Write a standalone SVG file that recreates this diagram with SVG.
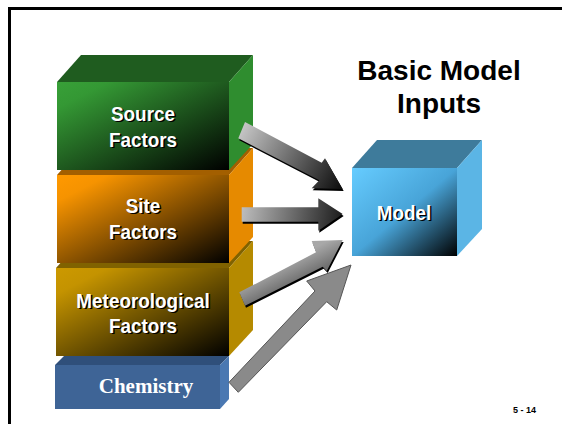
<svg xmlns="http://www.w3.org/2000/svg" width="562" height="424" viewBox="0 0 562 424">
<defs>
<linearGradient id="gGreen" x1="0" y1="0" x2="1" y2="1"><stop offset="0" stop-color="#38a038"/><stop offset="0.15" stop-color="#349834"/><stop offset="1" stop-color="#000"/></linearGradient>
<linearGradient id="gOrange" x1="0" y1="0" x2="1" y2="1"><stop offset="0" stop-color="#ff9900"/><stop offset="0.15" stop-color="#f69300"/><stop offset="1" stop-color="#000"/></linearGradient>
<linearGradient id="gOlive" x1="0" y1="0" x2="1" y2="1"><stop offset="0" stop-color="#cc9900"/><stop offset="0.15" stop-color="#c49300"/><stop offset="1" stop-color="#000"/></linearGradient>
<linearGradient id="gModel" x1="0" y1="0" x2="1" y2="1"><stop offset="0" stop-color="#66ccff"/><stop offset="0.5" stop-color="#48a4d8"/><stop offset="1" stop-color="#000"/></linearGradient>
<linearGradient id="gA1" gradientUnits="userSpaceOnUse" x1="242" y1="130" x2="340" y2="186"><stop offset="0" stop-color="#c4c4c4"/><stop offset="1" stop-color="#111"/></linearGradient>
<linearGradient id="gA2" gradientUnits="userSpaceOnUse" x1="242" y1="207" x2="342" y2="222"><stop offset="0" stop-color="#bdbdbd"/><stop offset="1" stop-color="#1c1c1c"/></linearGradient>
<linearGradient id="gA3" gradientUnits="userSpaceOnUse" x1="300" y1="255" x2="310" y2="275"><stop offset="0" stop-color="#a8a8a8"/><stop offset="1" stop-color="#707070"/></linearGradient>
</defs>
<style>
.lbl{font-family:"Liberation Sans",Arial,sans-serif;font-weight:bold;font-size:21px;text-anchor:middle;fill:#fff}
.sh{fill:#000}
.title{font-family:"Liberation Sans",Arial,sans-serif;font-weight:bold;font-size:28px;text-anchor:middle;fill:#000}
.chem{font-family:"Liberation Serif","Times New Roman",serif;font-weight:bold;font-size:21px;text-anchor:middle;fill:#fff}
.num{font-family:"Liberation Sans",Arial,sans-serif;font-weight:bold;font-size:9px;text-anchor:middle;fill:#000}
.ashadow{fill:#000}
</style>
<rect x="9.5" y="8.5" width="600" height="500" fill="none" stroke="#000" stroke-width="3"/>

<g id="chemistry">
<polygon points="55,365 64,356 229,356 220,365" fill="#2f4f7a"/>
<polygon points="220,365 229,356 229,399 220,409" fill="#4a78b2"/>
<rect x="55" y="365" width="165" height="44" fill="#3e6496"/>
<text class="chem" x="146" y="393">Chemistry</text>
</g>

<g id="meteorological-factors">
<polygon points="56,268 80,241 253,241 229,268" fill="#806200"/>
<polygon points="229,268 253,241 253,330 229,356" fill="#b58a00"/>
<rect x="56" y="268" width="173" height="88" fill="url(#gOlive)"/>
<g transform="translate(144.5,1.5) scale(0.9,1)"><text class="lbl sh" x="0" y="308">Meteorological</text><text class="lbl sh" x="0" y="333">Factors</text></g>
<g transform="translate(143,0) scale(0.9,1)"><text class="lbl" x="0" y="308">Meteorological</text><text class="lbl" x="0" y="333">Factors</text></g>
</g>

<g id="site-factors">
<polygon points="57,175 81,148 253,148 229,175" fill="#a35f00"/>
<polygon points="229,175 253,148 253,237 229,263" fill="#e68a00"/>
<rect x="57" y="175" width="172" height="88" fill="url(#gOrange)"/>
<g transform="translate(144.5,1.5) scale(0.9,1)"><text class="lbl sh" x="0" y="213">Site</text><text class="lbl sh" x="0" y="239">Factors</text></g>
<g transform="translate(143,0) scale(0.9,1)"><text class="lbl" x="0" y="213">Site</text><text class="lbl" x="0" y="239">Factors</text></g>
</g>

<g id="source-factors">
<polygon points="57,82 81,55 253,55 229,82" fill="#1f5c1f"/>
<polygon points="229,82 253,55 253,144 229,170" fill="#2f8d2f"/>
<rect x="57" y="82" width="172" height="88" fill="url(#gGreen)"/>
<g transform="translate(144.5,1.5) scale(0.9,1)"><text class="lbl sh" x="0" y="121">Source</text><text class="lbl sh" x="0" y="147">Factors</text></g>
<g transform="translate(143,0) scale(0.9,1)"><text class="lbl" x="0" y="121">Source</text><text class="lbl" x="0" y="147">Factors</text></g>
</g>

<g id="model">
<polygon points="352,168 377,140 482,140 457,168" fill="#3e7b9b"/>
<polygon points="457,168 482,140 482,229 457,256" fill="#5bb5e5"/>
<rect x="352" y="168" width="105" height="88" fill="url(#gModel)"/>
<g transform="translate(405.5,1.5) scale(0.9,1)"><text class="lbl sh" x="0" y="220">Model</text></g>
<g transform="translate(404,0) scale(0.9,1)"><text class="lbl" x="0" y="220">Model</text></g>
</g>

<g id="title">
<text class="title" x="439" y="80">Basic Model</text>
<text class="title" x="439" y="113">Inputs</text>
</g>

<g id="connectors">
<g id="arrow-source">
<polygon class="ashadow" transform="translate(1,2)" points="245,122 321.7,162.7 325,158.3 342.7,189 311.7,188.3 319.3,180.3 238.3,138.3"/>
<polygon fill="url(#gA1)" points="245,122 321.7,162.7 325,158.3 342.7,189 311.7,188.3 319.3,180.3 238.3,138.3"/>
</g>
<g id="arrow-site">
<polygon class="ashadow" transform="translate(1,2)" points="241.7,207.3 318.3,207.3 318.3,198.3 342.7,214 318.3,230.7 318.3,221.7 241.7,221.7"/>
<polygon fill="url(#gA2)" points="241.7,207.3 318.3,207.3 318.3,198.3 342.7,214 318.3,230.7 318.3,221.7 241.7,221.7"/>
</g>
<g id="arrow-met">
<polygon class="ashadow" transform="translate(1,2)" points="239.3,292.3 316,252.3 311.7,241 342.7,240 326.7,271 322.7,266.7 245,305.7"/>
<polygon fill="url(#gA3)" points="239.3,292.3 316,252.3 311.7,241 342.7,240 326.7,271 322.7,266.7 245,305.7"/>
</g>
<g id="arrow-chem">
<polygon fill="#8a8a8a" stroke="#555" stroke-width="1" stroke-linejoin="miter" points="229,382.3 315,291 306.7,281 351,265 336.7,310 326.7,301.7 238.3,392.3"/>
</g>
</g>

<text class="num" x="524.5" y="413">5 - 14</text>
</svg>
